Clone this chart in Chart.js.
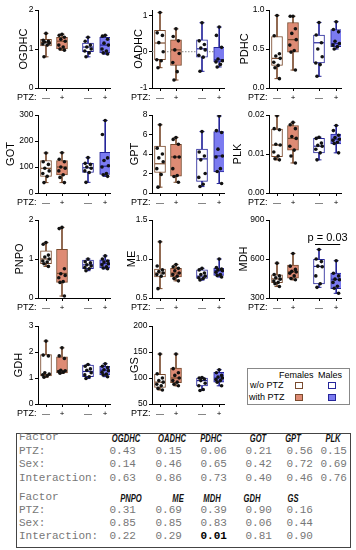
<!DOCTYPE html>
<html><head><meta charset="utf-8">
<script src="https://cdn.jsdelivr.net/npm/chart.js@4/dist/chart.umd.min.js"></script>
<style>
body{margin:0;width:356px;height:550px;position:relative;background:#fff;overflow:hidden;font-family:"Liberation Sans",Arial,sans-serif}
.panel{position:absolute;width:120px;height:105px}
.panel canvas{position:absolute;left:0;top:0}
.ptz{position:absolute;left:17px;top:92px;font-size:9px;color:#000}
#legend{position:absolute;left:247px;top:368px;width:101px;height:35px;border:1px solid #888;font-size:9px;color:#000}
#legend span{position:absolute;white-space:nowrap}
#legend i{position:absolute;width:6px;height:5px;border:1.5px solid}
#tbl{position:absolute;left:16px;top:433px;width:333px;height:113px;border:1.5px solid #444}
#tbl span{position:absolute;white-space:nowrap;line-height:13px}
.mono{font-family:"Liberation Mono","Courier New",monospace;font-size:11px;color:#777}
.hd{font-family:"Liberation Sans",Arial,sans-serif;font-size:10px;font-weight:bold;font-style:italic;color:#111;transform:scaleX(0.76);transform-origin:50% 50%;text-align:center;width:50px}
</style></head>
<body>
<div id="legend">
  <span style="left:31px;top:1px">Females</span><span style="left:70px;top:1px">Males</span>
  <span style="left:2px;top:11px">w/o PTZ</span><span style="left:1px;top:23px">with PTZ</span>
  <i style="left:47px;top:13px;border-color:#7a4b2e;background:#fff"></i>
  <i style="left:80px;top:13px;border-color:#25259a;background:#fff"></i>
  <i style="left:47px;top:25px;border-color:#7a4b2e;background:#de8b74"></i>
  <i style="left:80px;top:25px;border-color:#25259a;background:#7b7bf0"></i>
</div>
<div id="tbl"></div>
<script>
// ---- shared categories / styling ----
const GROUPS = ['Females w/o PTZ', 'Females with PTZ', 'Males w/o PTZ', 'Males with PTZ'];
const PTZ_LABELS = ['\u2014', '+', '\u2014', '+'];
const XPOS = [1, 3, 6.25, 8.4];
const JITTER = [0, -0.35, 0.3, -0.15, 0.4, -0.4, 0.15, -0.25, 0.3];
const FILL = ['#ffffff', '#de8b74', '#ffffff', '#7b7bf0'];
const EDGE = ['#7a4b2e', '#7a4b2e', '#25259a', '#25259a'];

// ---- data: box = [min, q1, median, q3, max] per group; pts = individual values ----
const OGDHC_box = [[0.80,1.08,1.17,1.25,1.40],[0.97,1.00,1.20,1.30,1.38],[0.80,0.93,1.05,1.15,1.30],[0.87,0.90,1.10,1.30,1.35]];
const OGDHC_pts = [[1.40,1.22,1.20,1.18,1.15,1.13,1.10,0.80],[1.38,1.35,1.30,1.25,1.20,1.10,1.05,1.00,0.97],[1.30,1.20,1.10,1.05,1.00,0.95,0.90,0.80],[1.35,1.33,1.25,1.15,1.10,1.00,0.95,0.90,0.87]];
const OGDHC_ticks = [0, 1, 2];
const OGDHC_tickLabels = ['0', '1', '2'];

const OADHC_box = [[-0.44,-0.22,0.24,0.59,1.08],[-0.78,-0.38,0.05,0.33,0.63],[-0.54,-0.15,0.08,0.33,0.80],[-0.42,-0.28,-0.22,0.12,0.68]];
const OADHC_pts = [[1.08,0.52,0.45,0.25,0.00,-0.22,-0.25,-0.44],[0.63,0.42,0.30,0.05,-0.05,-0.30,-0.55,-0.78],[0.80,0.30,0.20,0.10,0.05,-0.10,-0.15,-0.54],[0.68,0.45,0.12,-0.20,-0.25,-0.28,-0.35,-0.42]];
const OADHC_ticks = [-1, 0, 1];
const OADHC_tickLabels = ['-1', '0', '1'];

const PDHC_box = [[0.12,0.29,0.38,0.66,0.93],[0.23,0.46,0.62,0.84,0.92],[0.15,0.32,0.58,0.68,0.84],[0.50,0.53,0.57,0.75,0.85]];
const PDHC_pts = [[0.93,0.67,0.44,0.41,0.38,0.33,0.29,0.26,0.12],[0.92,0.92,0.76,0.70,0.62,0.55,0.48,0.46,0.23],[0.84,0.68,0.58,0.50,0.40,0.32,0.30,0.15],[0.85,0.75,0.72,0.60,0.57,0.55,0.53,0.50]];
const PDHC_ticks = [0, 0.5, 1];
const PDHC_tickLabels = ['0.0', '0.5', '1.0'];

const GOT_box = [[40,64,95,125,154],[40,70,100,125,155],[41,79,97,114,136],[64,71,103,156,279]];
const GOT_pts = [[154,120,110,95,85,75,64,40],[155,130,120,100,95,85,70,60,40],[136,114,110,100,95,85,79,41],[279,225,135,125,105,100,75,70,64]];
const GOT_ticks = [0, 100, 200, 300];
const GOT_tickLabels = ['0', '100', '200', '300'];

const GPT_box = [[0.6,2.1,3.0,4.8,7.0],[1.1,1.73,3.7,5.0,5.7],[0.66,1.2,3.5,4.5,6.3],[0.97,2.15,3.8,6.3,7.9]];
const GPT_pts = [[7.0,4.6,4.0,3.6,3.2,2.5,1.9,0.6],[5.7,5.5,5.0,3.7,3.7,2.5,1.8,1.7,1.1],[6.3,4.2,3.8,3.4,2.0,1.6,0.9,0.66],[7.9,6.4,6.2,4.5,3.8,3.7,2.5,2.2,0.97]];
const GPT_ticks = [0, 2, 4, 6, 8];
const GPT_tickLabels = ['0', '2', '4', '6', '8'];

const PLK_box = [[0.0085,0.0093,0.0123,0.0164,0.0198],[0.0077,0.0110,0.0140,0.0173,0.0181],[0.0085,0.0103,0.0120,0.0140,0.0143],[0.0103,0.0126,0.0138,0.0151,0.0173]];
const PLK_pts = [[0.0198,0.0165,0.0162,0.0125,0.0123,0.0105,0.0095,0.0088,0.0085],[0.0181,0.0175,0.0165,0.0145,0.0140,0.0120,0.0110,0.0095,0.0077],[0.0143,0.0140,0.0128,0.0122,0.0120,0.0112,0.0103,0.0085],[0.0173,0.0160,0.0148,0.0142,0.0138,0.0135,0.0130,0.0127,0.0103]];
const PLK_ticks = [0, 0.01, 0.02];
const PLK_tickLabels = ['0.00', '0.01', '0.02'];

const PNPO_box = [[0.81,0.88,1.00,1.21,1.42],[0.05,0.40,0.63,1.25,1.81],[0.70,0.75,0.85,0.97,1.00],[0.75,0.77,0.88,0.98,1.08]];
const PNPO_pts = [[1.42,1.38,1.10,1.05,1.00,0.95,0.92,0.88,0.81],[1.81,1.78,0.75,0.62,0.58,0.52,0.42,0.40,0.05],[1.00,0.93,0.90,0.85,0.82,0.78,0.75,0.70],[1.08,1.00,0.95,0.92,0.88,0.85,0.80,0.77,0.75]];
const PNPO_ticks = [0, 1, 2];
const PNPO_tickLabels = ['0', '1', '2'];

const ME_box = [[0.62,0.77,0.82,0.87,1.22],[0.72,0.77,0.82,0.88,0.93],[0.73,0.75,0.78,0.86,0.88],[0.77,0.79,0.85,0.88,1.00]];
const ME_pts = [[1.22,0.91,0.86,0.84,0.82,0.80,0.78,0.62],[0.93,0.90,0.88,0.85,0.82,0.80,0.78,0.75,0.72],[0.88,0.86,0.82,0.80,0.78,0.76,0.75,0.73],[1.00,0.89,0.87,0.86,0.85,0.83,0.80,0.79,0.77]];
const ME_ticks = [0.5, 1.0, 1.5];
const ME_tickLabels = ['0.5', '1.0', '1.5'];

const MDH_box = [[388,418,447,478,568],[440,452,501,553,642],[382,408,543,597,673],[336,371,444,491,587]];
const MDH_pts = [[568,480,470,455,445,430,420,410,388],[642,545,520,505,500,490,470,450,440],[673,600,580,545,540,470,410,382],[587,490,470,445,440,420,390,375,336]];
const MDH_ticks = [300, 600, 900];
const MDH_tickLabels = ['300', '600', '900'];
const MDH_sig = {from: 2, to: 3, y: 718, label: 'p = 0.03'};

const GDH_box = [[1.03,1.08,1.13,1.90,2.42],[1.18,1.20,1.28,1.81,2.16],[0.98,1.05,1.25,1.50,1.52],[1.05,1.12,1.30,1.45,1.55]];
const GDH_pts = [[2.42,1.88,1.85,1.20,1.15,1.12,1.08,1.03],[2.16,1.85,1.75,1.30,1.28,1.25,1.22,1.18],[1.52,1.45,1.35,1.30,1.20,1.12,1.05,0.98],[1.55,1.45,1.40,1.32,1.28,1.22,1.15,1.12,1.05]];
const GDH_ticks = [0, 1, 2, 3];
const GDH_tickLabels = ['0', '1', '2', '3'];

const GS_box = [[77,82,92,107,146],[85,91,100,119,146],[76,85,95,100,101],[85,92,100,111,116]];
const GS_pts = [[146,108,100,95,92,88,85,80,77],[146,118,110,105,100,95,92,88,85],[101,100,98,95,90,85,78,76],[116,110,105,102,100,97,95,92,85]];
const GS_ticks = [50, 100, 150, 200];
const GS_tickLabels = ['50', '100', '150', '200'];

// ---- two-way ANOVA p-value table ----
const T1_names = ['OGDHC','OADHC','PDHC','GOT','GPT','PLK'];
const T1_ptz = ['0.43','0.15','0.06','0.21','0.56','0.15'];
const T1_sex = ['0.14','0.46','0.65','0.42','0.72','0.69'];
const T1_int = ['0.63','0.86','0.73','0.40','0.46','0.76'];
const T2_names = ['PNPO','ME','MDH','GDH','GS'];
const T2_ptz = ['0.31','0.69','0.39','0.90','0.16'];
const T2_sex = ['0.85','0.85','0.83','0.06','0.44'];
const T2_int = ['0.22','0.29','0.01','0.81','0.90'];
const ROW_LABELS = ['Factor','PTZ:','Sex:','Interaction:'];

// ---- layout ----
const PANELS = [
  {name:'OGDHC', box:OGDHC_box, pts:OGDHC_pts, ticks:OGDHC_ticks, labels:OGDHC_tickLabels, min:0, max:2, left:0, top:0, tp:17},
  {name:'OADHC', box:OADHC_box, pts:OADHC_pts, ticks:OADHC_ticks, labels:OADHC_tickLabels, min:-1, max:1.15, left:114, top:0, tp:18, zero:true},
  {name:'PDHC', box:PDHC_box, pts:PDHC_pts, ticks:PDHC_ticks, labels:PDHC_tickLabels, min:0, max:1, left:231, top:0, tp:7},
  {name:'GOT', box:GOT_box, pts:GOT_pts, ticks:GOT_ticks, labels:GOT_tickLabels, min:0, max:300, left:0, top:105, tp:4},
  {name:'GPT', box:GPT_box, pts:GPT_pts, ticks:GPT_ticks, labels:GPT_tickLabels, min:0, max:8, left:114, top:105, tp:14},
  {name:'PLK', box:PLK_box, pts:PLK_pts, ticks:PLK_ticks, labels:PLK_tickLabels, min:0, max:0.02, left:231, top:105, tp:0},
  {name:'PNPO', box:PNPO_box, pts:PNPO_pts, ticks:PNPO_ticks, labels:PNPO_tickLabels, min:0, max:2, left:0, top:210, tp:13},
  {name:'ME', box:ME_box, pts:ME_pts, ticks:ME_ticks, labels:ME_tickLabels, min:0.5, max:1.5, left:114, top:210, tp:11},
  {name:'MDH', box:MDH_box, pts:MDH_pts, ticks:MDH_ticks, labels:MDH_tickLabels, min:300, max:900, left:231, top:210, tp:6, sig:MDH_sig},
  {name:'GDH', box:GDH_box, pts:GDH_pts, ticks:GDH_ticks, labels:GDH_tickLabels, min:0, max:3, left:0, top:316, tp:12},
  {name:'GS', box:GS_box, pts:GS_pts, ticks:GS_ticks, labels:GS_tickLabels, min:50, max:200, left:114, top:316, tp:14}
];
const FONT = '"Liberation Sans", Arial, sans-serif';

const sigPlugin = {
  id: 'sig',
  afterDatasetsDraw(chart) {
    const s = chart.options.plugins.sig;
    if (!s || !s.label) return;
    const {ctx, scales: {x, y}} = chart;
    const x1 = x.getPixelForValue(XPOS[s.from]) - 4, x2 = x.getPixelForValue(XPOS[s.to]) + 4;
    const yy = Math.round(y.getPixelForValue(s.y)) + 0.5;
    ctx.save();
    ctx.strokeStyle = '#000'; ctx.lineWidth = 1;
    ctx.beginPath(); ctx.moveTo(x1, yy); ctx.lineTo(x2, yy); ctx.stroke();
    ctx.fillStyle = '#000'; ctx.font = '11px ' + FONT;
    ctx.textAlign = 'center'; ctx.textBaseline = 'bottom';
    ctx.fillText(s.label, (x1 + x2) / 2, yy - 1);
    ctx.restore();
  }
};

function makePanel(p) {
  const wrap = document.createElement('div');
  wrap.className = 'panel';
  wrap.style.left = p.left + 'px'; wrap.style.top = p.top + 'px';
  const cv = document.createElement('canvas');
  cv.width = 120; cv.height = 105;
  wrap.appendChild(cv);
  const ptz = document.createElement('div');
  ptz.className = 'ptz'; ptz.textContent = 'PTZ:';
  wrap.appendChild(ptz);
  document.body.appendChild(wrap);

  const datasets = [];
  if (p.zero) {
    datasets.push({type:'line', data:[{x:0,y:0},{x:9,y:0}], borderColor:'#888', borderWidth:1, borderDash:[1.5,1.5], pointRadius:0, order:6});
  }
  datasets.push({type:'bar', label:'whisker', data:p.box.map((b,i)=>({x:XPOS[i], y:[b[0], b[4]]})),
    backgroundColor:EDGE, borderWidth:0, barThickness:1, grouped:false, order:5});
  datasets.push({type:'bar', label:'box', data:p.box.map((b,i)=>({x:XPOS[i], y:[b[1], b[3]]})),
    backgroundColor:FILL, borderColor:EDGE, borderWidth:1, borderSkipped:false, barThickness:11, grouped:false, order:4});
  datasets.push({type:'scatter', label:'caps', data:p.box.flatMap((b,i)=>[{x:XPOS[i], y:b[0]}, {x:XPOS[i], y:b[4]}]),
    pointStyle:'line', pointRadius:2.5, borderColor:EDGE.flatMap(c=>[c,c]), borderWidth:1, order:3});
  datasets.push({type:'scatter', label:'median', data:p.box.map((b,i)=>({x:XPOS[i], y:b[2]})),
    pointStyle:'line', pointRadius:5, borderColor:EDGE, borderWidth:1.2, order:2});
  datasets.push({type:'scatter', label:'values', data:p.pts.flatMap((arr,i)=>arr.map((v,j)=>({x:XPOS[i] + JITTER[j % JITTER.length], y:v}))),
    pointRadius:1.8, backgroundColor:'#111', borderWidth:0, order:1});

  new Chart(cv, {
    type: 'bar',
    data: {datasets},
    plugins: [sigPlugin],
    options: {
      responsive:false, animation:false, devicePixelRatio:1,
      layout:{padding:{top:10, right:10, left:0, bottom:0}},
      plugins:{legend:{display:false}, tooltip:{enabled:false}, sig: p.sig || {}},
      scales:{
        x:{type:'linear', min:0, max:9, offset:false,
          afterBuildTicks: s => { s.ticks = XPOS.map(v => ({value:v})); },
          afterFit: s => { s.height = 17; },
          grid:{drawOnChartArea:false, drawTicks:true, tickLength:3, color:'#000', offset:false},
          border:{display:true, color:'#000', width:1},
          ticks:{callback:(v,i)=>PTZ_LABELS[i], font:{size:8, family:FONT}, color:'#000', padding:2, maxRotation:0, autoSkip:false}},
        y:{type:'linear', min:p.min, max:p.max,
          afterBuildTicks: s => { s.ticks = p.ticks.map(v => ({value:v})); },
          afterFit: s => { s.width = 38; },
          grid:{drawOnChartArea:false, drawTicks:true, tickLength:3, color:'#000'},
          border:{display:true, color:'#000', width:1},
          ticks:{callback:(v,i)=>p.labels[i], font:{size:8.5, family:FONT}, color:'#000', padding:1.5},
          title:{display:true, text:p.name, font:{size:11, family:FONT}, color:'#000', padding:{top:p.tp, bottom:0}}}
      }
    }
  });
}
PANELS.forEach(makePanel);

// ---- table (HTML text); positions relative to the table box ----
const tbl = document.getElementById('tbl');
const TBL_LEFT = 17.5;
const VAL1_X = [110, 156, 201, 246, 287, 321];
const HEAD1_X = [126, 172, 211, 258, 293, 333];
const VAL2_X = [110, 156, 201, 246, 287];
const HEAD2_X = [131, 178, 212, 252, 293];
const ROWY1 = [-3, 11, 24, 38];
const ROWY2 = [57, 70, 83, 96];
function addSpan(txt, cls, x, y, extra) {
  const s = document.createElement('span');
  s.className = cls; s.textContent = txt;
  s.style.left = x + 'px'; s.style.top = y + 'px';
  if (extra) Object.assign(s.style, extra);
  tbl.appendChild(s);
}
function block(names, ptz, sex, inter, vx, hx, rowy) {
  ROW_LABELS.forEach((l, r) => addSpan(l, 'mono', 2, rowy[r]));
  names.forEach((n, i) => addSpan(n, 'hd', hx[i] - TBL_LEFT - 25, rowy[0] + 1));
  [ptz, sex, inter].forEach((arr, r) => arr.forEach((v, i) => {
    const bold = (r === 2 && v === '0.01');
    addSpan(v, 'mono', vx[i] - TBL_LEFT, rowy[r + 1], bold ? {fontWeight:'bold', color:'#000'} : null);
  }));
}
block(T1_names, T1_ptz, T1_sex, T1_int, VAL1_X, HEAD1_X, ROWY1);
block(T2_names, T2_ptz, T2_sex, T2_int, VAL2_X, HEAD2_X, ROWY2);
</script>
</body></html>
